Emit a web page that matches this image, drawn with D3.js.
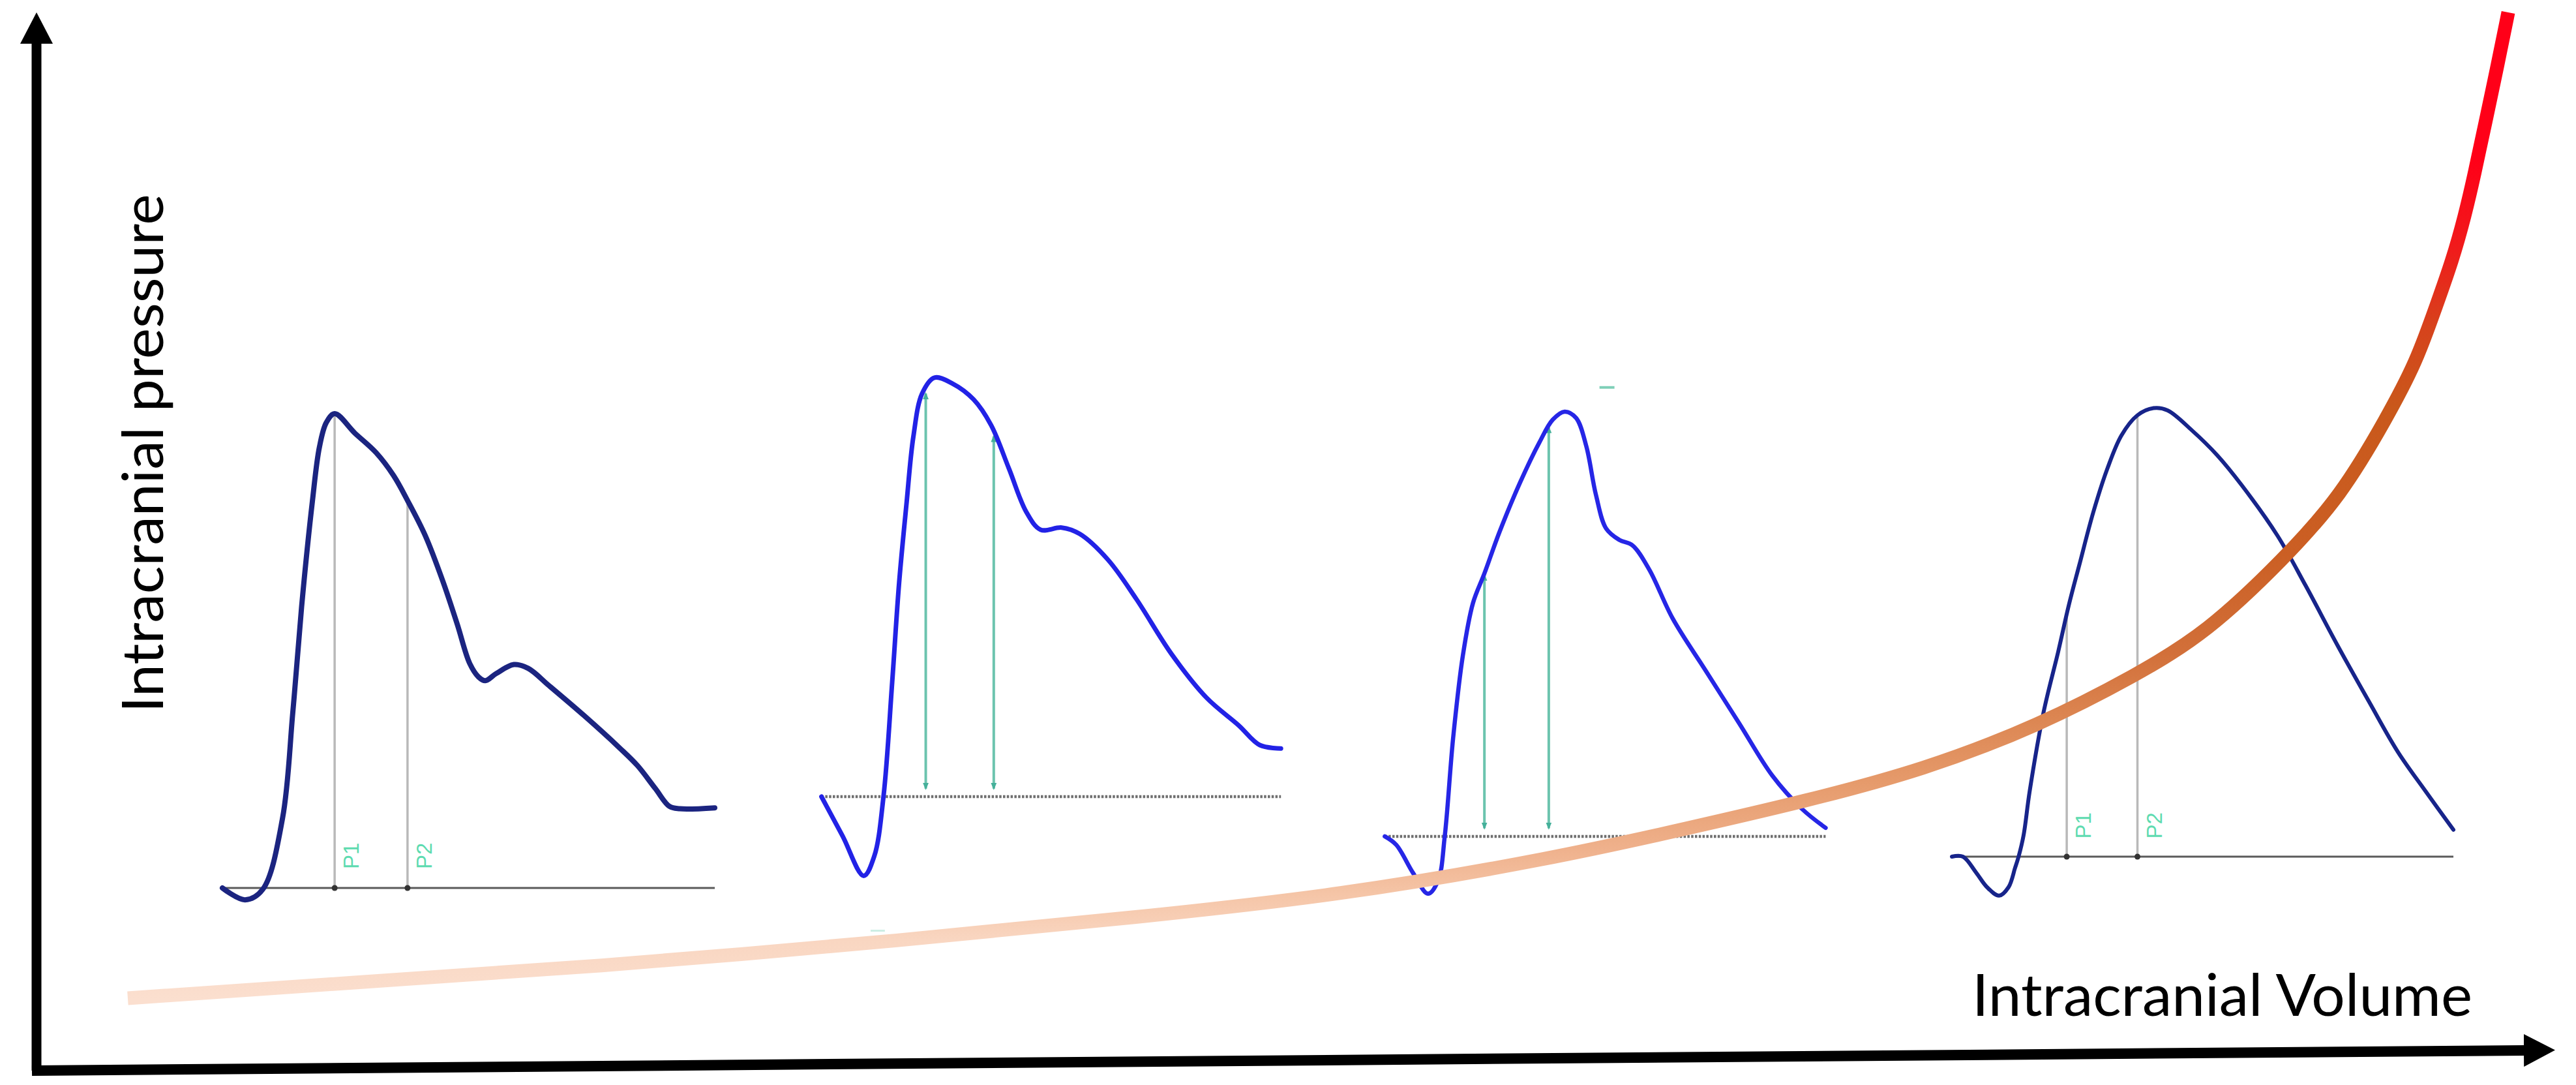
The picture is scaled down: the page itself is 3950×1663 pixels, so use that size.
<!DOCTYPE html>
<html>
<head>
<meta charset="utf-8">
<script src="https://cdn.jsdelivr.net/npm/d3@7"></script>
<style>
  body { margin: 0; background: #fff; }
  svg { display: block; }
</style>
</head>
<body>
<div id="chart"></div>
<script>
// pulse waveforms, [time %, pressure % of peak] relative to each panel's baseline
var wave1 = [[0,0],[4.6,-2.5],[8.2,-0.3],[12.2,14.6],[14.3,37.0],[16.1,59.4],[18.3,81.7],[19.7,92.9],
  [21.1,98.1],[22.8,100],[26.9,95.9],[31.2,91.8],[34.8,86.9],[37.6,81.7],[41.2,74.3],[44.8,64.6],
  [47.7,55.6],[50.2,47.4],[52.0,44.5],[53.4,43.7],[55.6,45.2],[59.2,47.1],[62.1,46.3],[66.4,42.6],
  [73.5,36.3],[80.7,29.5],[84.3,25.8],[87.9,21.0],[90.8,17.2],[92.9,16.7],[100,16.9]];

var wave2 = [[0,0],[4.6,-9.4],[9.2,-18.9],[11.5,-14.2],[13.5,0],[15.4,27.4],[16.9,51.0],[18.5,69.8],
  [20.0,85.9],[21.9,96.2],[24.6,100],[28.5,98.6],[33.1,94.8],[36.9,88.7],[40.8,78.3],[44.6,67.9],
  [47.7,63.7],[52.3,64.2],[56.2,62.7],[62.3,56.6],[68.5,47.2],[76.2,34.0],[83.8,23.6],[90.8,17.0],
  [95.4,12.3],[100,11.5]];

var wave3 = [[0,0],[2.6,-2.0],[6.4,-8.6],[9.8,-13.5],[12.1,-10.4],[13.6,0],[15.5,23.1],[17.7,42.5],
  [20.0,54.9],[22.6,61.9],[26.0,71.6],[30.6,83.1],[35.1,92.8],[38.1,98.1],[40.8,100],[43.4,98.5],
  [45.7,91.9],[47.9,80.4],[50.2,72.5],[53.2,69.8],[56.2,68.5],[60.0,62.8],[65.3,51.3],[72.8,39.0],
  [80.4,26.6],[87.9,14.3],[94.7,6.4],[100,2.0]];

var wave4 = [[0,0],[2.2,0],[4.8,-3.5],[7.0,-6.8],[9.4,-8.7],[11.3,-6.8],[12.6,-2.5],[13.3,0],[14.3,4.8],
  [15.5,14.5],[18.3,32.3],[21.2,45.7],[23.3,56.0],[25.4,65.0],[28.2,76.8],[31.0,86.5],[33.8,93.9],
  [37.0,98.4],[40.2,100],[43.0,99.5],[47.9,95.0],[52.9,89.5],[57.8,82.8],[64.9,71.6],[70.5,60.5],
  [76.9,47.1],[83.2,34.5],[88.9,23.4],[94.5,14.5],[100,6.0]];

// P1 / P2 marks: time, top of the mark, label
var marks1 = [{t:22.8, top:100, label:"P1"}, {t:37.6, top:81.7, label:"P2"}];
var marks2 = [{t:22.7, top:96.2}, {t:37.5, top:86.0}];
var marks3 = [{t:22.6, top:61.5}, {t:37.2, top:96.3}];
var marks4 = [{t:22.9, top:53.8, label:"P1"}, {t:37.0, top:98.4, label:"P2"}];

// pressure-volume curve, [volume %, pressure %]
var pvCurve = [[3.84,6.84],[12.67,8.32],[22.12,9.74],[35.10,12.39],[44.18,14.55],[51.97,16.52],
  [60.70,20.10],[65.99,22.93],[70.51,25.40],[75.34,28.42],[79.98,32.68],[83.78,37.36],[86.60,41.37],
  [89.69,48.40],[91.95,54.32],[93.77,61.71],[94.94,66.95],[95.72,72.19],[96.37,76.51],[96.88,80.83],
  [97.25,84.65],[97.69,89.58],[98.16,94.82],[98.60,100]];

var xLabel = "Intracranial Volume",
    yLabel = "Intracranial pressure";

var width = 3950, height = 1663;

var svg = d3.select("#chart")
  .append("svg")
    .attr("width", width)
    .attr("height", height);

svg.append("rect").attr("width", width).attr("height", height).attr("fill", "#fff");

var defs = svg.append("defs");

// arrow heads
defs.append("marker")
    .attr("id", "axisHead")
    .attr("markerUnits", "userSpaceOnUse")
    .attr("viewBox", "0 0 48 50")
    .attr("markerWidth", 48).attr("markerHeight", 50)
    .attr("refX", 1).attr("refY", 25)
    .attr("orient", "auto")
  .append("path")
    .attr("d", "M0,0L48,25L0,50Z")
    .attr("fill", "#000");

defs.append("marker")
    .attr("id", "tealHead")
    .attr("markerUnits", "userSpaceOnUse")
    .attr("viewBox", "0 0 10 10")
    .attr("markerWidth", 11).attr("markerHeight", 11)
    .attr("refX", 8).attr("refY", 5)
    .attr("orient", "auto-start-reverse")
  .append("path")
    .attr("d", "M0,1L10,5L0,9Z")
    .attr("fill", "#45b09a");

// main scales
var xV = d3.scaleLinear().domain([0, 100]).range([48, 3900]);
var yP = d3.scaleLinear().domain([0, 100]).range([1641, 19]);

// colour ramp along pressure
var ramp = defs.append("linearGradient")
    .attr("id", "ramp")
    .attr("gradientUnits", "userSpaceOnUse")
    .attr("x1", 0).attr("x2", 0)
    .attr("y1", yP(6.8)).attr("y2", yP(100));
[[0, "#fbdfcf"], [0.06, "#f9d6c1"], [0.106, "#f5c5a7"], [0.152, "#efb18c"], [0.218, "#e69b6c"],
 [0.284, "#dc8652"], [0.35, "#d2703a"], [0.45, "#cb5f24"], [0.6, "#c9581b"], [0.68, "#d6431c"],
 [0.76, "#f01b1b"], [0.85, "#ff0018"], [1, "#ff0018"]].forEach(function(s) {
  ramp.append("stop").attr("offset", s[0]).attr("stop-color", s[1]);
});

// panels: position of each small waveform
var panels = [
  {data: wave1, marks: marks1, x: [341, 1096], y: [1361, 634], color: "#1b2480", sw: 8, base: "solid", kind: "line"},
  {data: wave2, marks: marks2, x: [1259.6, 1964.2], y: [1221, 578.8], color: "#2222e6", sw: 7, base: "dotted", kind: "arrow"},
  {data: wave3, marks: marks3, x: [2123.4, 2799.4], y: [1281.9, 630.9], color: "#2626e6", sw: 6.5, base: "dotted", kind: "arrow"},
  {data: wave4, marks: marks4, x: [2993, 3762], y: [1313, 625.5], color: "#17248a", sw: 6, base: "solid", kind: "line"}
];

panels.forEach(function(p) {
  var x = d3.scaleLinear().domain([0, 100]).range(p.x);
  var y = d3.scaleLinear().domain([0, 100]).range(p.y);
  var g = svg.append("g");

  // baseline
  g.append("line")
      .attr("x1", x(0)).attr("x2", x(100))
      .attr("y1", y(0)).attr("y2", y(0))
      .attr("stroke", p.base == "solid" ? "#5a5a5a" : "#6f6f6f")
      .attr("stroke-width", p.base == "solid" ? 3 : 4.5)
      .style("stroke-dasharray", p.base == "solid" ? null : "3.5,2.3");

  if (p.kind == "line") {
    g.selectAll("line.mark")
      .data(p.marks)
      .enter()
      .append("line")
        .attr("class", "mark")
        .attr("x1", function(d) { return x(d.t); })
        .attr("x2", function(d) { return x(d.t); })
        .attr("y1", function(d) { return y(d.top); })
        .attr("y2", y(0))
        .attr("stroke", "#b9b9b9")
        .attr("stroke-width", 3.5);

    g.selectAll("circle")
      .data(p.marks)
      .enter()
      .append("circle")
        .attr("cx", function(d) { return x(d.t); })
        .attr("cy", y(0))
        .attr("r", 4.5)
        .attr("fill", "#333");

    g.selectAll("text")
      .data(p.marks)
      .enter()
      .append("text")
        .attr("transform", function(d) { return "translate(" + (x(d.t) + 37) + "," + y(4) + ") rotate(-90)"; })
        .attr("font-family", "Liberation Sans, Arial, sans-serif")
        .attr("font-size", "33px")
        .attr("fill", "#5ddbb0")
        .text(function(d) { return d.label; });
  } else {
    g.selectAll("line.mark")
      .data(p.marks)
      .enter()
      .append("line")
        .attr("class", "mark")
        .attr("x1", function(d) { return x(d.t); })
        .attr("x2", function(d) { return x(d.t); })
        .attr("y1", function(d) { return y(d.top); })
        .attr("y2", y(1.9))
        .attr("stroke", "#6cc4ae")
        .attr("stroke-width", 4)
        .attr("marker-start", "url(#tealHead)")
        .attr("marker-end", "url(#tealHead)");
  }

  // waveform
  g.append("path")
      .datum(p.data)
      .attr("fill", "none")
      .attr("stroke", p.color)
      .attr("stroke-width", p.sw)
      .attr("stroke-linejoin", "round")
      .attr("stroke-linecap", "round")
      .attr("d", d3.line()
        .x(function(d) { return x(d[0]); })
        .y(function(d) { return y(d[1]); })
        .curve(d3.curveCatmullRom.alpha(0.5)));

  p.xs = x; p.ys = y;
});

// small teal tick above the third waveform
svg.append("line")
    .attr("x1", panels[2].xs(48.7)).attr("x2", panels[2].xs(52.1))
    .attr("y1", panels[2].ys(105.7)).attr("y2", panels[2].ys(105.7))
    .attr("stroke", "#7fcfb8")
    .attr("stroke-width", 4);

// faint hidden labels under the second waveform
[[10.7, 13.8], [26.8, 28.2]].forEach(function(s) {
  svg.append("line")
      .attr("x1", panels[1].xs(s[0])).attr("x2", panels[1].xs(s[1]))
      .attr("y1", panels[1].ys(-32)).attr("y2", panels[1].ys(-32))
      .attr("stroke", "#cdeee4")
      .attr("stroke-width", 3);
});

// pressure volume curve
svg.append("path")
    .datum(pvCurve)
    .attr("fill", "none")
    .attr("stroke", "url(#ramp)")
    .attr("stroke-width", 21)
    .attr("stroke-linecap", "butt")
    .attr("d", d3.line()
      .x(function(d) { return xV(d[0]); })
      .y(function(d) { return yP(d[1]); })
      .curve(d3.curveBasis));

// axes with arrows
svg.append("line")
    .attr("x1", 56).attr("y1", 1641)
    .attr("x2", 56).attr("y2", 66)
    .attr("stroke", "#000")
    .attr("stroke-width", 15)
    .attr("marker-end", "url(#axisHead)");

svg.append("line")
    .attr("x1", 49).attr("y1", 1641)
    .attr("x2", 3871).attr("y2", 1610)
    .attr("stroke", "#000")
    .attr("stroke-width", 16)
    .attr("marker-end", "url(#axisHead)");

// axis titles
svg.append("text")
    .attr("x", 3024)
    .attr("y", 1557)
    .attr("font-family", "Lato, 'Open Sans', sans-serif")
    .attr("font-size", "90px")
    .attr("textLength", 767)
    .attr("lengthAdjust", "spacingAndGlyphs")
    .attr("fill", "#000")
    .text(xLabel);

svg.append("text")
    .attr("transform", "translate(250,695) rotate(-90)")
    .attr("text-anchor", "middle")
    .attr("font-family", "Lato, 'Open Sans', sans-serif")
    .attr("font-size", "88px")
    .attr("textLength", 795)
    .attr("lengthAdjust", "spacingAndGlyphs")
    .attr("fill", "#000")
    .text(yLabel);
</script>
</body>
</html>
